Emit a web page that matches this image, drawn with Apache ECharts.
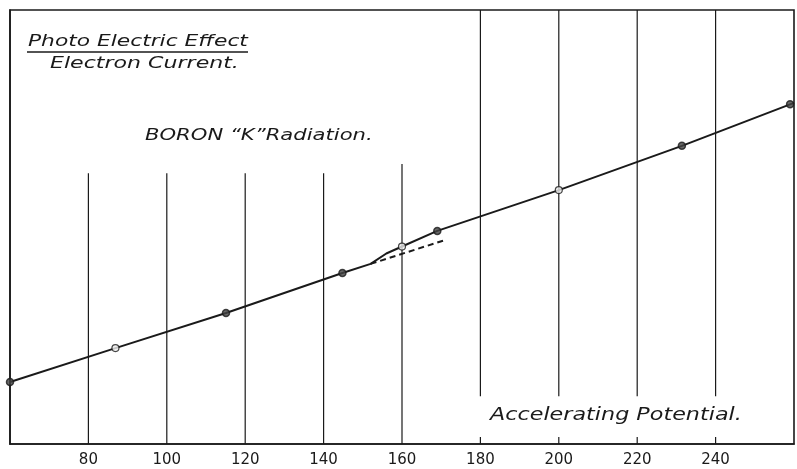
<!DOCTYPE html>
<html><head><meta charset="utf-8">
<script src="https://cdn.jsdelivr.net/npm/echarts@6/dist/echarts.min.js"></script>
<style>html,body{margin:0;padding:0;background:#fff}#c{width:797px;height:469px}</style>
</head><body><div id="c"></div>
<script>
// Accelerating potential (x) and electron current (arbitrary units, y)
const lineX = [60, 86.9, 115.1, 144.8, 152, 156, 160, 169, 200, 231.4, 260];
const lineY = [14.3, 22.1, 30.2, 39.4, 41.5, 43.9, 45.5, 49.1, 58.5, 68.7, 78.6];
const filledX = [60, 115.1, 144.8, 169, 231.4, 259];
const filledY = [14.3, 30.2, 39.4, 49.1, 68.7, 78.3];
const openX = [86.9, 160, 200];
const openY = [22.1, 45.5, 58.5];
const dashX = [152, 171];
const dashY = [41.5, 47.0];
const tickLabels = [80, 100, 120, 140, 160, 180, 200, 220, 240];
const gridTop = [62.4, 62.4, 62.4, 62.4, 64.5, 100, 100, 100, 100];
const gapLow = [null, null, null, null, null, 1.6, 1.6, 1.6, 1.6];
const gapHigh = [null, null, null, null, null, 11.0, 11.0, 11.0, 11.0];

const zip = (a, b) => a.map((v, i) => [v, b[i]]);
const ink = '#1a1a1a';
const font = '"DejaVu Sans", sans-serif';

const chart = echarts.init(document.getElementById('c'));
const label = (text, x, y, size, sx) => ({
  type: 'text', x: x, y: y, scaleX: sx, scaleY: 1,
  style: { text: text, font: 'italic ' + size + 'px ' + font, fill: ink, verticalAlign: 'top', align: 'left' }
});
chart.setOption({
  animation: false,
  backgroundColor: '#fff',
  grid: { left: 10, right: 3, top: 10, bottom: 25, show: true, borderColor: ink, borderWidth: 1.6 },
  xAxis: {
    type: 'value', min: 60, max: 260, interval: 20,
    axisLine: { show: true, lineStyle: { color: ink, width: 1.6 } },
    axisTick: { show: false },
    splitLine: { show: false },
    axisLabel: {
      color: ink, fontFamily: font, fontSize: 15, margin: 9,
      formatter: v => tickLabels.indexOf(v) >= 0 ? String(v) : ''
    }
  },
  yAxis: {
    type: 'value', min: 0, max: 100,
    axisLine: { show: true, lineStyle: { color: ink, width: 1.6 } },
    axisTick: { show: false }, axisLabel: { show: false }, splitLine: { show: false }
  },
  series: [
    {
      type: 'custom', silent: true, z: 1,
      data: tickLabels.map((x, i) => [x, gridTop[i], gapLow[i], gapHigh[i]]),
      renderItem: (params, api) => {
        const x = api.value(0), top = api.value(1);
        const lo = api.value(2), hi = api.value(3);
        const seg = (y0, y1) => {
          const p0 = api.coord([x, y0]), p1 = api.coord([x, y1]);
          return { type: 'line', shape: { x1: p0[0], y1: p0[1], x2: p1[0], y2: p1[1] },
                   style: { stroke: ink, lineWidth: 1.2 } };
        };
        if (lo == null || isNaN(lo)) return seg(0, top);
        return { type: 'group', children: [seg(0, lo), seg(hi, top)] };
      }
    },
    {
      type: 'line', data: zip(lineX, lineY), showSymbol: false, z: 3,
      lineStyle: { color: ink, width: 2 }
    },
    {
      type: 'line', data: zip(dashX, dashY), showSymbol: false, z: 3,
      lineStyle: { color: ink, width: 2, type: [6, 4] }
    },
    {
      type: 'scatter', data: zip(filledX, filledY), symbolSize: 7, z: 4,
      itemStyle: { color: '#444', borderColor: ink, borderWidth: 1.5 }
    },
    {
      type: 'scatter', data: zip(openX, openY), symbolSize: 7, z: 4,
      itemStyle: { color: '#eee', borderColor: ink, borderWidth: 1.2 }
    }
  ],
  graphic: [
    label('Photo Electric Effect', 28, 34, 16, 1.36),
    { type: 'line', shape: { x1: 27, y1: 52, x2: 248, y2: 52 }, style: { stroke: ink, lineWidth: 1.3 } },
    label('Electron Current.', 50, 56, 16, 1.38),
    label('BORON \u201CK\u201DRadiation.', 145, 128, 16, 1.32),
    label('Accelerating Potential.', 490, 407, 17, 1.31)
  ]
});
</script></body></html>
